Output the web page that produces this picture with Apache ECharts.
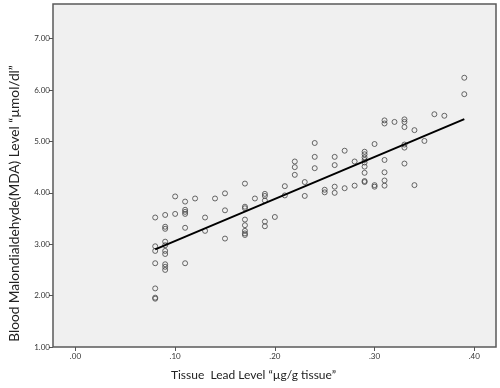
<!DOCTYPE html>
<html>
<head>
    <meta charset="utf-8">
    <script src="https://cdn.jsdelivr.net/npm/echarts@6/dist/echarts.min.js"></script>
    <style>
        html, body { margin: 0; padding: 0; background: #fff; }
        #main { width: 500px; height: 388px; }
    </style>
</head>
<body>
    <div id="main"></div>
    <script type="text/javascript">
        // tissue lead (µg/g) vs blood MDA (µmol/dl)
        var tissueLead = [
            0.08, 0.08, 0.08, 0.08, 0.08, 0.08, 0.08,
            0.09, 0.09, 0.09, 0.09, 0.09, 0.09, 0.09, 0.09, 0.09, 0.09,
            0.10, 0.10,
            0.11, 0.11, 0.11, 0.11, 0.11, 0.11,
            0.12, 0.13, 0.13, 0.14,
            0.15, 0.15, 0.15,
            0.17, 0.17, 0.17, 0.17, 0.17, 0.17, 0.17, 0.17,
            0.18,
            0.19, 0.19, 0.19, 0.19, 0.19,
            0.20, 0.21, 0.21,
            0.22, 0.22, 0.22,
            0.23, 0.23,
            0.24, 0.24, 0.24,
            0.25, 0.25,
            0.26, 0.26, 0.26, 0.26,
            0.27, 0.27, 0.28, 0.28,
            0.29, 0.29, 0.29, 0.29, 0.29, 0.29, 0.29, 0.29, 0.29,
            0.30, 0.30, 0.30,
            0.31, 0.31, 0.31, 0.31, 0.31, 0.31,
            0.32,
            0.33, 0.33, 0.33, 0.33, 0.33, 0.33,
            0.34, 0.34, 0.35, 0.36, 0.37,
            0.39, 0.39
        ];
        var bloodMDA = [
            3.52, 2.96, 2.87, 2.63, 2.14, 1.96, 1.94,
            3.57, 3.34, 3.30, 3.05, 2.98, 2.87, 2.81, 2.61, 2.56, 2.50,
            3.93, 3.59,
            3.83, 3.67, 3.63, 3.59, 3.32, 2.63,
            3.89, 3.52, 3.26, 3.89,
            3.99, 3.66, 3.11,
            4.18, 3.73, 3.70, 3.48, 3.37, 3.26, 3.21, 3.18,
            3.89,
            3.98, 3.94, 3.85, 3.44, 3.35,
            3.53, 4.13, 3.95,
            4.61, 4.50, 4.35,
            4.21, 3.94,
            4.97, 4.70, 4.48,
            4.06, 4.01,
            4.70, 4.54, 4.12, 4.00,
            4.82, 4.09, 4.61, 4.14,
            4.80, 4.75, 4.69, 4.64, 4.59, 4.51, 4.39, 4.23, 4.21,
            4.95, 4.15, 4.12,
            5.41, 5.35, 4.64, 4.40, 4.24, 4.14,
            5.38,
            5.43, 5.38, 5.28, 4.94, 4.88, 4.57,
            5.22, 4.15, 5.01, 5.53, 5.50,
            6.24, 5.92
        ];
        // fit line end points
        var fitX = [0.08, 0.39];
        var fitY = [2.90, 5.435];

        var xTicks = [0, 0.1, 0.2, 0.3, 0.4];
        var yTicks = [1, 2, 3, 4, 5, 6, 7];

        var points = tissueLead.map((x, i) => [x, bloodMDA[i]]);
        var fitLine = fitX.map((x, i) => [x, fitY[i]]);

        var myChart = echarts.init(document.getElementById('main'));
        var labelFont = 'Lato, "DejaVu Sans", sans-serif';

        myChart.setOption({
            animation: false,
            backgroundColor: '#fff',
            grid: {
                left: 49, right: 4, top: 4, bottom: 41,
                show: true,
                backgroundColor: '#f0f0f0',
                borderColor: '#5a5a5a',
                borderWidth: 1.5
            },
            xAxis: {
                type: 'value',
                min: -0.0225,
                max: 0.4218,
                splitLine: { show: false },
                axisLine: { show: false, onZero: false },
                axisTick: {
                    show: true, length: 4, inside: false,
                    customValues: xTicks,
                    lineStyle: { color: '#555', width: 1 }
                },
                axisLabel: {
                    customValues: xTicks,
                    margin: 5,
                    fontSize: 8,
                    fontFamily: labelFont,
                    color: '#333',
                    formatter: v => v.toFixed(2).replace(/^0/, '')
                },
                name: 'Tissue  Lead Level “µg/g tissue”',
                nameLocation: 'middle',
                nameGap: 22,
                nameTextStyle: {
                    fontSize: 12,
                    fontFamily: labelFont,
                    color: '#222',
                    padding: [0, 42, 0, 0]
                }
            },
            yAxis: {
                type: 'value',
                min: 1,
                max: 7.675,
                splitLine: { show: false },
                axisLine: { show: false, onZero: false },
                axisTick: {
                    show: true, length: 4, inside: false,
                    customValues: yTicks,
                    lineStyle: { color: '#555', width: 1 }
                },
                axisLabel: {
                    customValues: yTicks,
                    margin: 3,
                    fontSize: 8,
                    fontFamily: labelFont,
                    color: '#333',
                    formatter: v => v.toFixed(2)
                },
                name: 'Blood Malondialdehyde(MDA) Level “µmol/dl”',
                nameLocation: 'middle',
                nameGap: 31,
                nameTextStyle: {
                    fontSize: 13.7,
                    fontFamily: labelFont,
                    color: '#222',
                    padding: [0, 56, 0, 0]
                }
            },
            series: [
                {
                    type: 'scatter',
                    data: points,
                    symbol: 'circle',
                    symbolSize: 5,
                    itemStyle: {
                        color: 'transparent',
                        borderColor: '#444',
                        borderWidth: 1
                    },
                    z: 2
                },
                {
                    type: 'line',
                    data: fitLine,
                    showSymbol: false,
                    lineStyle: { color: '#000', width: 2 },
                    z: 3
                }
            ]
        });
    </script>
</body>
</html>
